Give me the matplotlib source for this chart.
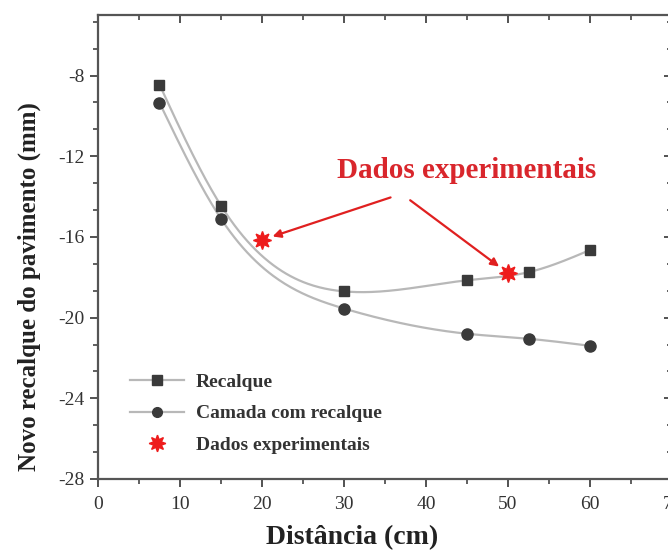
import numpy as np
import matplotlib
matplotlib.use("Agg")
import matplotlib.pyplot as plt
from matplotlib.lines import Line2D

# values
dist = [7.5, 15, 30, 45, 52.5, 60]
recalque = [-8.45, -14.45, -18.7, -18.15, -17.75, -16.65]
camada = [-9.35, -15.1, -19.55, -20.8, -21.05, -21.4]
exp_x = [20, 50]
exp_y = [-16.15, -17.8]

xticks = [0, 10, 20, 30, 40, 50, 60, 70]
yticks = [-28, -24, -20, -16, -12, -8]


def natural_spline(x, y, n=300):
    # plain natural cubic spline, only used to draw the smooth connecting line
    x = np.asarray(x, float)
    y = np.asarray(y, float)
    k = len(x)
    h = np.diff(x)
    A = np.zeros((k, k))
    b = np.zeros(k)
    A[0, 0] = 1
    A[-1, -1] = 1
    for i in range(1, k - 1):
        A[i, i - 1] = h[i - 1]
        A[i, i] = 2 * (h[i - 1] + h[i])
        A[i, i + 1] = h[i]
        b[i] = 3 * ((y[i + 1] - y[i]) / h[i] - (y[i] - y[i - 1]) / h[i - 1])
    c = np.linalg.solve(A, b)
    xs = np.linspace(x[0], x[-1], n)
    ys = np.empty_like(xs)
    for j, xv in enumerate(xs):
        i = min(np.searchsorted(x, xv, side="right") - 1, k - 2)
        bb = (y[i + 1] - y[i]) / h[i] - h[i] * (2 * c[i] + c[i + 1]) / 3
        d = (c[i + 1] - c[i]) / (3 * h[i])
        t = xv - x[i]
        ys[j] = y[i] + bb * t + c[i] * t ** 2 + d * t ** 3
    return xs, ys


plt.rcParams["font.family"] = ["Liberation Serif", "DejaVu Serif"]
plt.rcParams["axes.unicode_minus"] = False

fig = plt.figure(figsize=(6.68, 5.58), dpi=100)
ax = fig.add_axes([0.1467, 0.1416, 0.8593, 0.8315])

line_col = "#b8b8b8"
mark_col = "#3a3a3a"
red = "#ee1c1c"

xs, ys = natural_spline(dist, recalque)
ax.plot(xs, ys, color=line_col, lw=1.6, zorder=2)
xs, ys = natural_spline(dist, camada)
ax.plot(xs, ys, color=line_col, lw=1.6, zorder=2)

ax.plot(dist, recalque, ls="none", marker="s", ms=7.5, color=mark_col, zorder=3)
ax.plot(dist, camada, ls="none", marker="o", ms=8, color=mark_col, zorder=3)
ax.plot(exp_x, exp_y, ls="none", marker=(8, 1, 0), ms=13, color=red, zorder=4)

ax.set_xlim(0, 70)
ax.set_ylim(-28, -5)
ax.set_xticks(xticks)
ax.set_yticks(yticks)
ax.set_xticks(np.arange(5, 70, 10), minor=True)
ax.set_yticks(np.arange(-28, -5, 4 / 3), minor=True)

ax.tick_params(axis="both", which="major", labelsize=14, length=6, width=1.3,
               color="#444444", labelcolor="#333333", direction="out")
ax.tick_params(axis="both", which="minor", length=3.5, width=1.2,
               color="#444444", direction="out")
ax.tick_params(axis="x", which="both", pad=6)
for side in ["left", "right", "top", "bottom"]:
    ax.spines[side].set_linewidth(1.6)
    ax.spines[side].set_color("#555555")

# mirrored ticks on top and right, pointing inward
top = ax.secondary_xaxis("top")
top.set_xticks(xticks)
top.set_xticks(np.arange(5, 70, 10), minor=True)
top.tick_params(which="major", direction="in", length=6, width=1.3, color="#444444", labeltop=False)
top.tick_params(which="minor", direction="in", length=3.5, width=1.2, color="#444444")
top.spines["top"].set_visible(False)
right = ax.secondary_yaxis("right")
right.set_yticks(yticks)
right.set_yticks(np.arange(-28, -5, 4 / 3), minor=True)
right.tick_params(which="major", direction="in", length=6, width=1.3, color="#444444", labelright=False)
right.tick_params(which="minor", direction="in", length=3.5, width=1.2, color="#444444")
right.spines["right"].set_visible(False)

ax.set_xlabel("Distância (cm)", fontsize=20, fontweight="bold", color="#222222")
ax.set_ylabel("Novo recalque do pavimento (mm)", fontsize=18, fontweight="bold",
              color="#222222")
ax.xaxis.set_label_coords(0.443, -0.1)
ax.yaxis.set_label_coords(-0.1, 0.415)

# arrows to the experimental points
ax.text(44.9, -12.7, "Dados experimentais", color="#d9262c", fontsize=21,
        fontweight="bold", ha="center", va="center")
ax.annotate("", xy=(exp_x[0], exp_y[0]), xytext=(36.0, -14.0),
            arrowprops=dict(arrowstyle="-|>", color="#e02020", lw=1.6,
                            mutation_scale=12, shrinkB=8))
ax.annotate("", xy=(exp_x[1], exp_y[1]), xytext=(37.8, -14.1),
            arrowprops=dict(arrowstyle="-|>", color="#e02020", lw=1.6,
                            mutation_scale=12, shrinkB=8))

handles = [
    Line2D([], [], color=line_col, lw=1.6, marker="s", ms=7, mfc=mark_col, mec=mark_col),
    Line2D([], [], color=line_col, lw=1.6, marker="o", ms=7, mfc=mark_col, mec=mark_col),
    Line2D([], [], ls="none", marker=(8, 1, 0), ms=12, color=red),
]
labels = ["Recalque", "Camada com recalque", "Dados experimentais"]
leg = ax.legend(handles, labels, loc="upper left", bbox_to_anchor=(0.025, 0.265),
                frameon=False, handlelength=2.8, labelspacing=0.7, handletextpad=0.6,
                prop={"family": ["Liberation Serif"], "weight": "bold", "size": 14})
for txt in leg.get_texts():
    txt.set_color("#333333")

fig.savefig("out.png", dpi=100)
